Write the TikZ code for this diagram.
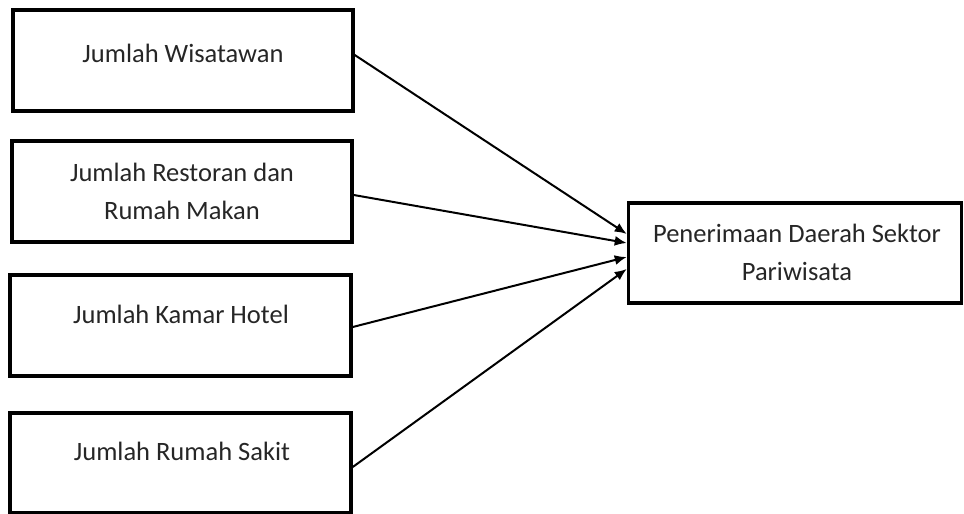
\documentclass[tikz,border=0pt]{standalone}
\usepackage{fontspec}
\setmainfont{Carlito}
\usetikzlibrary{arrows.meta}
\begin{document}
\begin{tikzpicture}[x=1pt,y=-1pt,
  box/.style={draw=black,line width=3.5pt,rectangle,inner sep=0pt},
  lbl/.style={inner sep=0pt,font=\fontsize{26.5}{38}\selectfont,text=black!85,align=center},
  conn/.style={line width=2pt,-{Latex[length=12pt,width=10pt]}}]
\useasboundingbox (0,0) rectangle (964,514);
\node[box,minimum width=340pt,minimum height=101pt] (b1) at (183,60.5) {};
\node[box,minimum width=340pt,minimum height=101pt] (b2) at (182,191.5) {};
\node[box,minimum width=341pt,minimum height=101pt] (b3) at (180.5,325.5) {};
\node[box,minimum width=341pt,minimum height=100pt] (b4) at (180.5,463) {};
\node[box,minimum width=333pt,minimum height=100pt] (r) at (795,253) {};
\node[lbl,anchor=base] (t1) at (183,62) {Jumlah Wisatawan};
\node[lbl] (t2) at (182,191.6) {Jumlah Restoran dan\\Rumah Makan};
\node[lbl,anchor=base] (t3) at (181,323) {Jumlah Kamar Hotel};
\node[lbl,anchor=base] (t4) at (182,460) {Jumlah Rumah Sakit};
\node[lbl] (tr) at (797,252) {Penerimaan Daerah Sektor\\Pariwisata};
\draw[conn] ([yshift=5.5pt]b1.east) -- ([yshift=19pt]r.west);
\draw[conn] ([yshift=-3.5pt]b2.east) -- ([yshift=10pt]r.west);
\draw[conn] ([yshift=-1.5pt]b3.east) -- ([yshift=-4pt]r.west);
\draw[conn] ([yshift=-4pt]b4.east) -- ([yshift=-16pt]r.west);
\end{tikzpicture}
\end{document}
